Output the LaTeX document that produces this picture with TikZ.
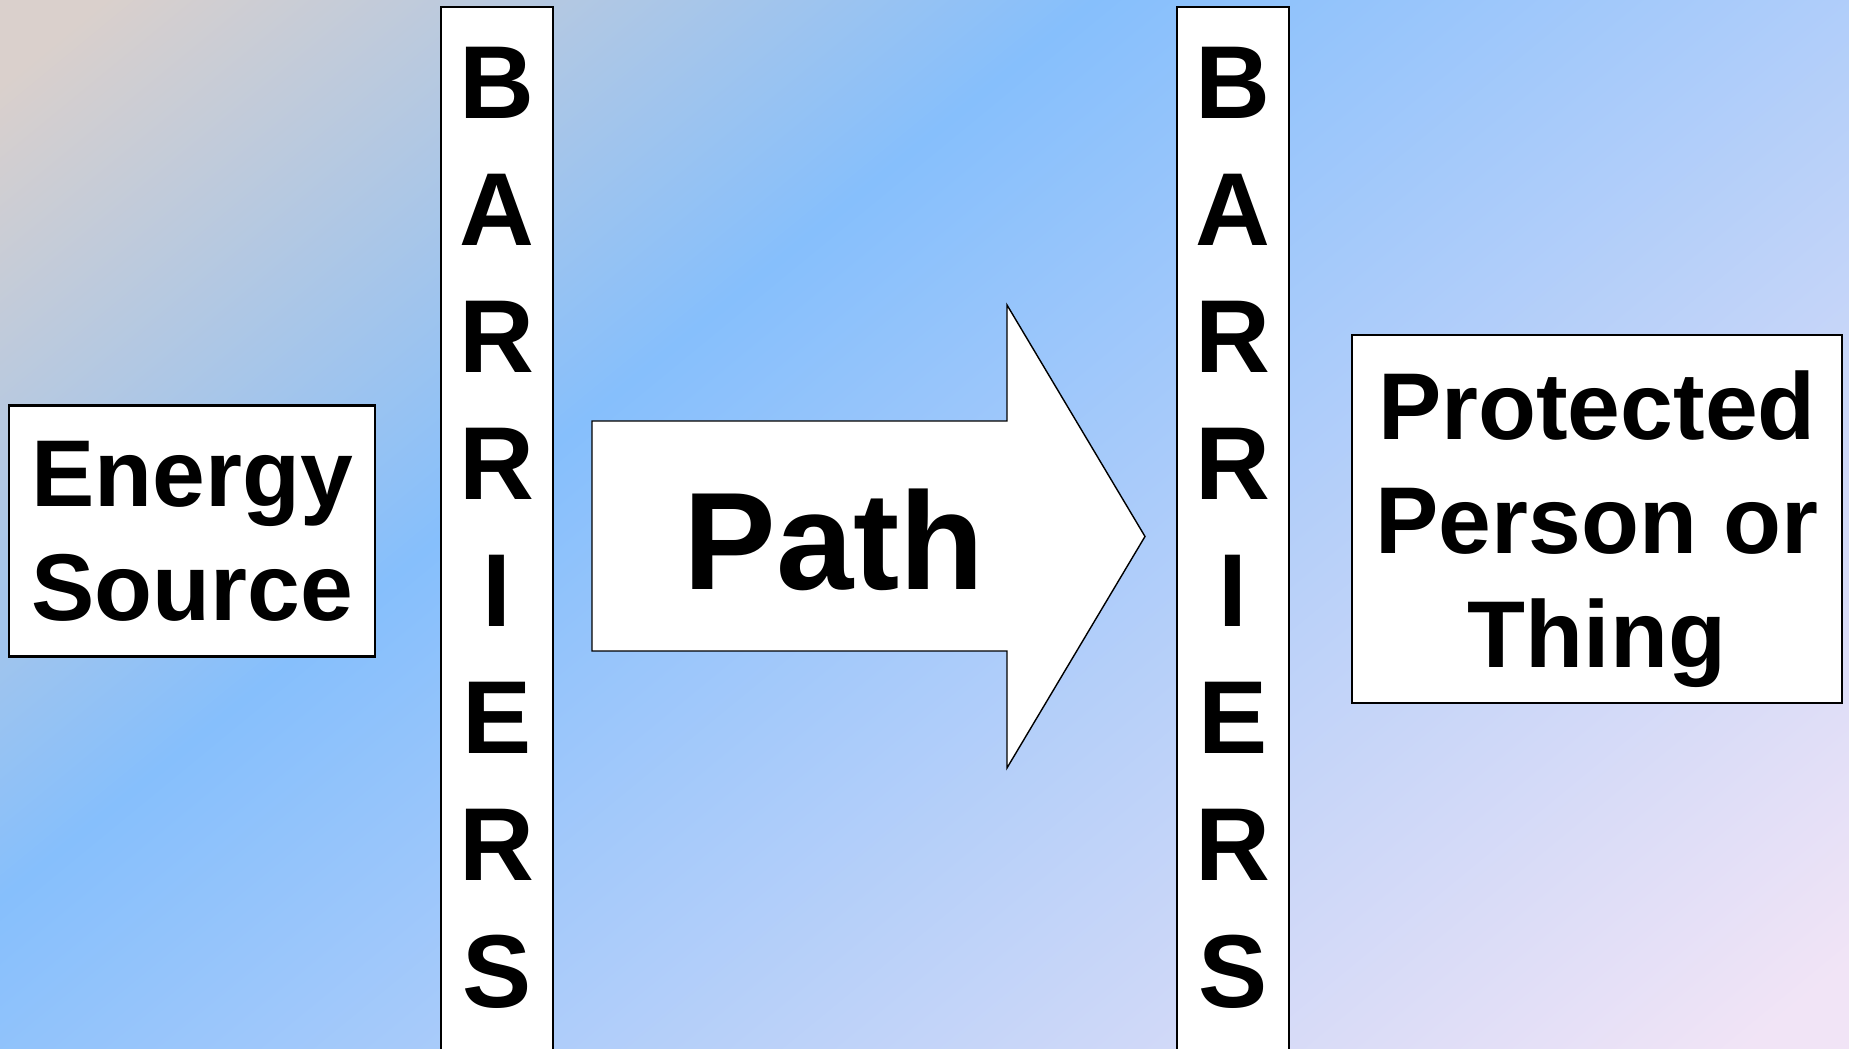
\documentclass[tikz,border=0pt]{standalone}
\usepackage{fontspec}
\setmainfont{Liberation Sans}
\definecolor{bgtop}{RGB}{218,208,204}
\definecolor{bgblue}{RGB}{134,191,252}
\definecolor{bglav}{RGB}{241,228,246}
\pgfdeclarehorizontalshading{slidebg}{100bp}{color(0bp)=(bgtop); color(17bp)=(bgtop); color(39.4bp)=(bgblue); color(83bp)=(bglav); color(100bp)=(bglav)}

\begin{document}
\begin{tikzpicture}[
  box/.style={draw, fill=white, line width=0.6pt, inner sep=0pt},
  boxtext/.style={align=center, font=\bfseries\fontsize{27}{32.5}\selectfont},
  letter/.style={anchor=base, font=\bfseries\fontsize{29.5}{36}\selectfont},
  arrowshape/.style={draw, fill=white, line width=0.4pt}
]
\useasboundingbox (0, 0) rectangle (18.49, 10.49);
\shade[shading=slidebg, shading angle=-50.6] (0, 0) rectangle (18.49, 10.49);

\node[box, boxtext, minimum width=3.66cm, minimum height=2.51cm] (energy) at (1.92, 5.18) {Energy\\Source};

\node[box, minimum width=1.12cm, minimum height=10.64cm] (barrier1) at (4.97, 5.10) {};
\foreach \l [count=\i from 0] in {B,A,R,R,I,E,R,S}
  \node[letter] (barrier1-\i) at (4.97, 9.30-1.27*\i) {\l};

\draw[arrowshape] (5.92, 6.28) -- (10.07, 6.28) -- (10.07, 7.44) -- (11.45, 5.125)
  -- (10.07, 2.81) -- (10.07, 3.98) -- (5.92, 3.98) -- cycle;
\node[anchor=base, font=\bfseries\fontsize{39.5}{47}\selectfont] (path) at (8.34, 4.59) {Path};

\node[box, minimum width=1.12cm, minimum height=10.64cm] (barrier2) at (12.33, 5.10) {};
\foreach \l [count=\i from 0] in {B,A,R,R,I,E,R,S}
  \node[letter] (barrier2-\i) at (12.33, 9.30-1.27*\i) {\l};

\node[box, minimum width=4.895cm, minimum height=3.68cm] (protected) at (15.97, 5.30) {};
\node[boxtext] (protectedtext) at (15.97, 5.20) {Protected\\Person or\\Thing};

\end{tikzpicture}
\end{document}
